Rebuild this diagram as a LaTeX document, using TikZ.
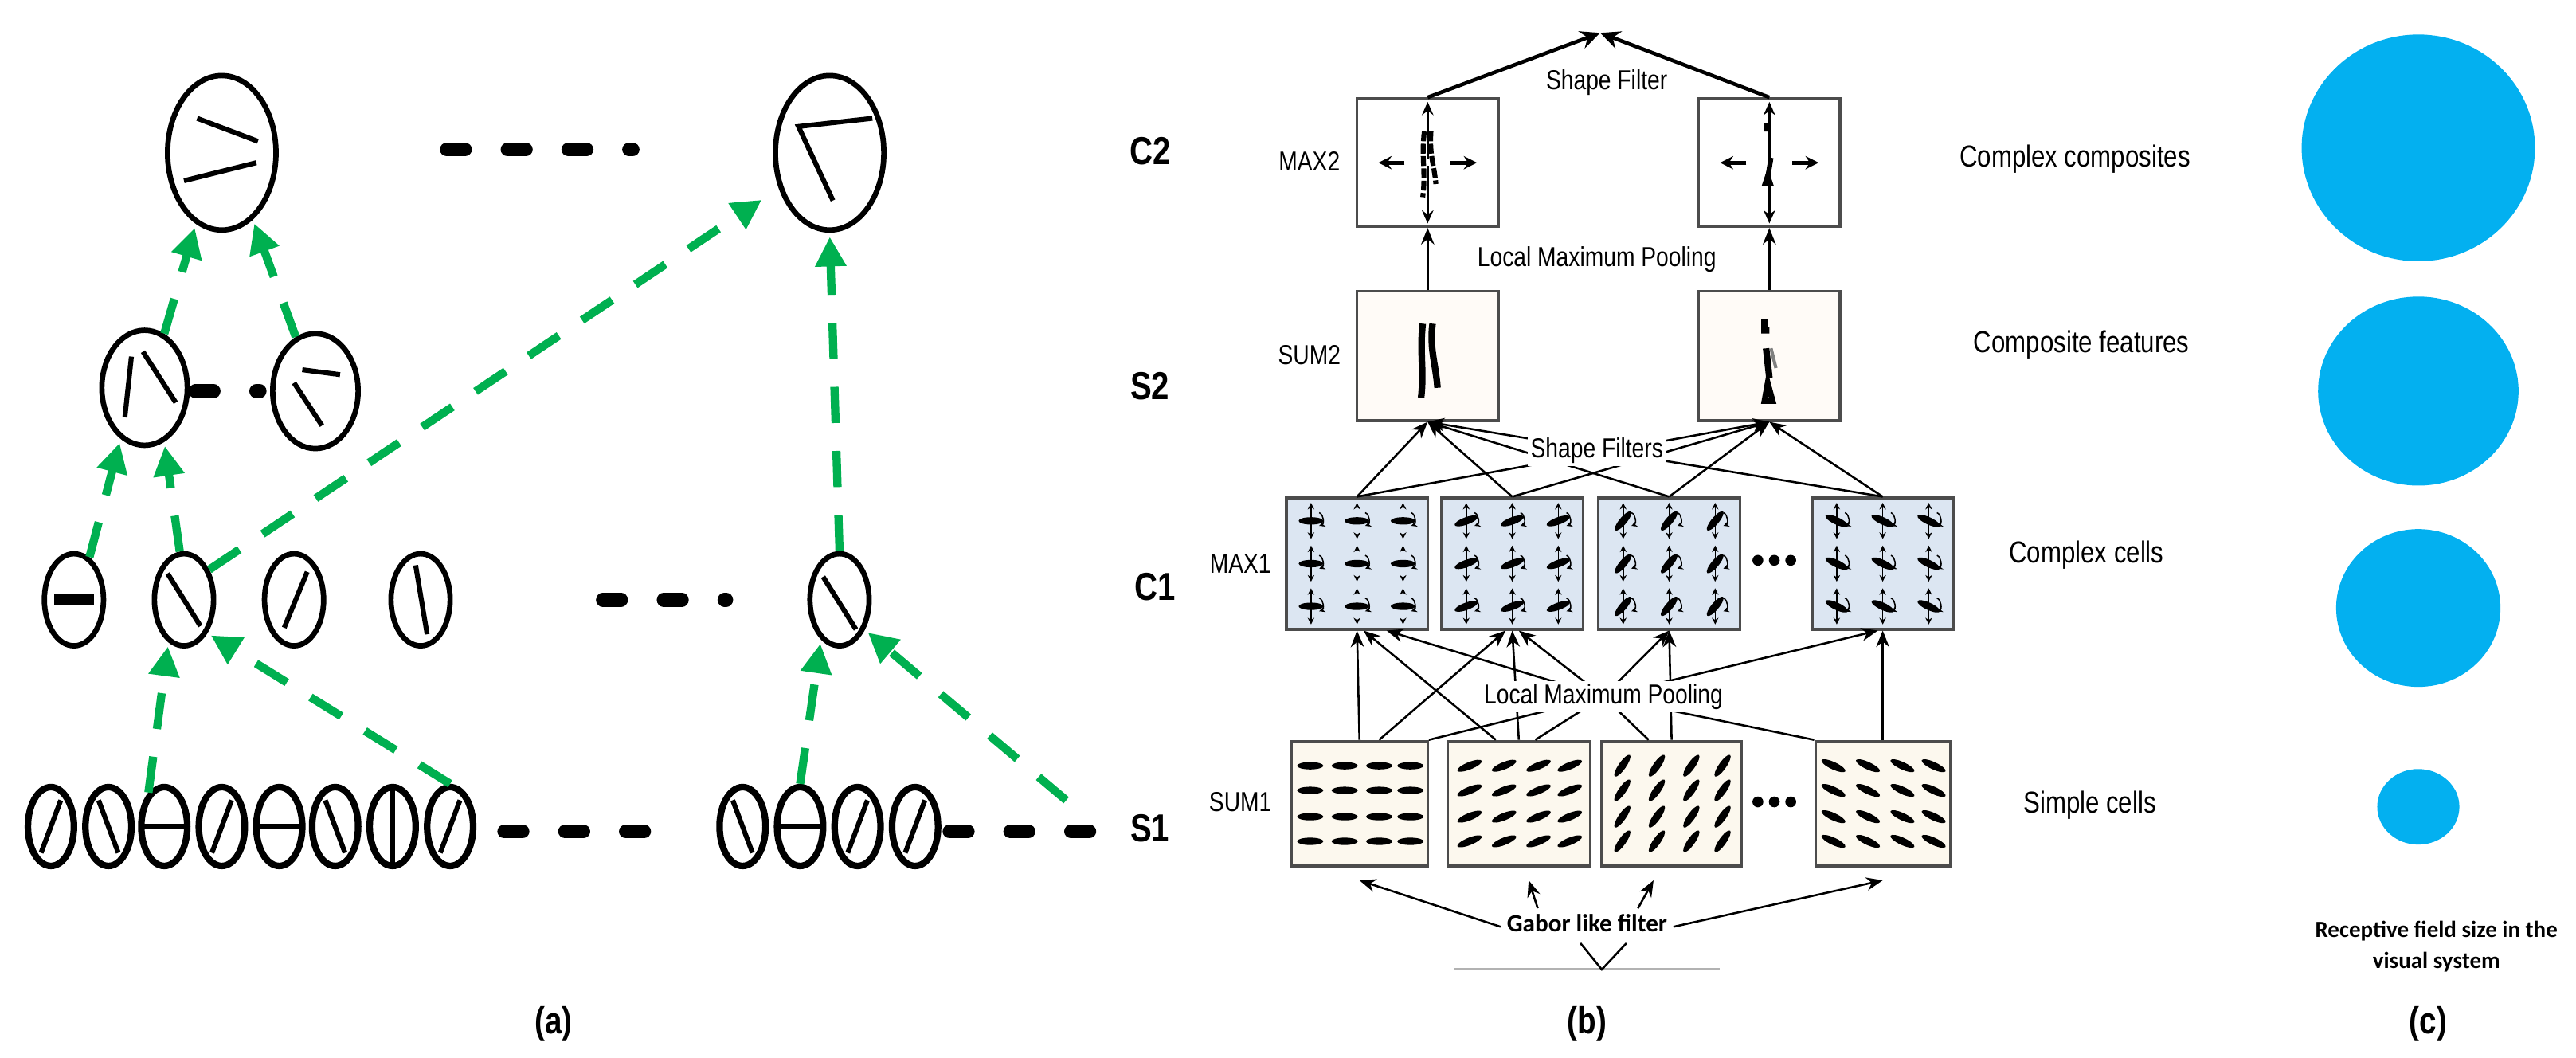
\documentclass[tikz,border=0pt]{standalone}
\usepackage{fontspec}
\setmainfont{Liberation Sans}
\newfontfamily\condf{Liberation Sans}[FakeStretch=0.82]
\newfontfamily\calf{Carlito}
\usetikzlibrary{shapes.geometric,arrows.meta,calc}
\definecolor{gr}{HTML}{00B050}
\definecolor{cb}{HTML}{03B0F0}
\definecolor{cofill}{HTML}{DCE6F2}
\definecolor{sofill}{HTML}{FCF8EE}
\newcommand{\citem}[3]{%
 \node[fill,ellipse,inner sep=0,minimum width=3mm,minimum height=0.9mm,rotate=#3] at (#1,#2) {};
 \draw[line width=0.15mm,{Stealth[length=0.8mm,width=0.8mm]}-{Stealth[length=0.8mm,width=0.8mm]}] (#1,#2-11) -- (#1,#2+11);
 \draw[line width=0.15mm,-{Stealth[length=0.7mm,width=0.7mm]}] (#1+5,#2-5) to[bend left=70] (#1+5,#2+3);}
\newcommand{\sitem}[3]{%
 \node[fill,ellipse,inner sep=0,minimum width=3.2mm,minimum height=0.9mm,rotate=#3] at (#1,#2) {};}
\begin{document}
\begin{tikzpicture}[x=0.2mm,y=-0.2mm,
 cell/.style={draw,ellipse,line width=0.65mm,inner sep=0},
 stk/.style={line width=0.6mm},
 gar/.style={draw=gr,line width=1mm,dash pattern=on 4.4mm off 3.4mm,-{Triangle[length=3.6mm,width=3.6mm]},shorten >=0.5mm},
 bdash/.style={line width=1.7mm,line cap=round,dash pattern=on 2.2mm off 5.2mm},
 box/.style={draw=black!70,line width=0.3mm,inner sep=0,minimum width=17.2mm},
 thn/.style={line width=0.25mm,-{Stealth[length=2mm,width=1.6mm]}},
 lbl/.style={font=\condf\fontsize{9.5}{11}\selectfont,inner sep=1pt},
 big/.style={font=\condf\bfseries\fontsize{13.5}{15}\selectfont},
 rlbl/.style={font=\condf\fontsize{10.5}{12}\selectfont},
 blob/.style={ellipse,fill=cb,inner sep=0},
]
\useasboundingbox (0,0) rectangle (1568,643.4);
%================ panel (a)
\node[cell,minimum width=13.2mm,minimum height=18.8mm] (c2a) at (135,93) {};
\node[cell,minimum width=13.2mm,minimum height=18.8mm] (c2b) at (505,93) {};
\draw[stk] (120,72) -- (157,86) (156,99) -- (112,110);
\draw[stk] (531,72) -- (486,77) -- (507,122);
\node[cell,minimum width=10.4mm,minimum height=14mm] (s2a) at (88,236) {};
\node[cell,minimum width=10.4mm,minimum height=14mm] (s2b) at (192,238) {};
\draw[stk] (80,217) -- (76,254) (87,214) -- (107,245);
\draw[stk] (184,225) -- (207,228) (179,233) -- (196,259);
\foreach \x [count=\i] in {45,112,179,256} \node[cell,minimum width=7.2mm,minimum height=11.2mm] (c1n\i) at (\x,365) {};
\node[cell,minimum width=7.2mm,minimum height=11.2mm] (c1r) at (511,365) {};
\draw[line width=1.3mm] (33,365) -- (57,365);
\draw[stk] (102,349) -- (122,381) (187,348) -- (173,382) (253,344) -- (260,386) (501,351) -- (521,383);
\foreach \x/\t [count=\i] in {31/1,66/2,100/3,135/1,170/3,204/2,239/4,274/1,452/2,487/3,522/1,557/1}{
 \node[cell,line width=0.8mm,minimum width=5.6mm,minimum height=9.6mm] (s1n\i) at (\x,503) {};
 \ifcase\t\or \draw[stk] (\x+6,487) -- (\x-6,519);
 \or \draw[stk] (\x-6,487) -- (\x+6,519);
 \or \draw[stk] (\x-13,503) -- (\x+13,503);
 \or \draw[stk] (\x,480) -- (\x,526); \fi}
\coordinate (s1end) at (649,487);
\draw[bdash] (272,91) -- (385,91);
\draw[bdash] (119,238) -- (158,238);
\draw[bdash] (367,365) -- (442,365);
\draw[bdash] (307,506) -- (416,506);
\draw[bdash] (578,506) -- (668,506);
\draw[gar] (s1n3.115) -- (c1n2.250);
\draw[gar] (s1n8.north) -- (c1n2.-55);
\draw[gar] (s1n10.north) -- (c1r.245);
\draw[gar] (s1end) -- (c1r.-50);
\draw[gar] (c1n1.70) -- (s2a.245);
\draw[gar] (c1n2.95) -- (s2a.290);
\draw[gar,shorten >=2.5mm] (c1n2.50) -- (c2b.215);
\draw[gar] (s2a.70) -- (c2a.250);
\draw[gar] (s2b.110) -- (c2a.295);
\draw[gar] (c1r.north) -- (c2b.south);
\node[font=\condf\bfseries\fontsize{13}{15}\selectfont] (la) at (337,623) {(a)};
%================ panel (b)
\node[big] (tC2) at (700,92) {C2};
\node[big] (tS2) at (700,235) {S2};
\node[big] (tC1) at (703,357) {C1};
\node[big] (tS1) at (700,504) {S1};
\node[box,minimum height=15.6mm,fill=white] (m2l) at (869,99) {};
\node[box,minimum height=15.6mm,fill=white] (m2r) at (1077,99) {};
\node[box,minimum height=15.8mm,fill=white!97!orange] (s2l) at (869,216.5) {};
\node[box,minimum height=15.8mm,fill=white!97!orange] (s2r) at (1077,216.5) {};
\foreach \n/\x in {a/826,b/920.5,c/1016,d/1146} \node[box,minimum height=16mm,fill=cofill] (c1\n) at (\x,343) {};
\foreach \n/\x/\w in {a/827.5/16.6,b/924.5/17.4,c/1017.5/17,d/1146/16.4} \node[box,minimum width=\w mm,minimum height=15.2mm,fill=sofill] (s1\n) at (\x,489) {};
\foreach \x/\a in {826/0,920.5/20,1016/50,1146/-25}{
 \foreach \dx in {-28,0,28}{ \foreach \dy in {-26,0,26}{ \citem{\x+\dx}{343+\dy}{\a} }}}
\foreach \x/\a in {827.5/0,924.5/22,1017.5/55,1146/-25}{
 \foreach \dx in {-30,-9,12,31}{ \foreach \dy in {-23,-8,8,23}{ \sitem{\x+\dx}{489+\dy}{\a} }}}
\foreach \x in {869,1077}{
 \draw[line width=0.3mm,-{Stealth[length=1.6mm,width=1.4mm]}] (\x,97) -- (\x,62);
 \draw[line width=0.3mm,-{Stealth[length=1.6mm,width=1.4mm]}] (\x,101) -- (\x,136);
 \draw[line width=0.5mm,-{Stealth[length=1.6mm,width=1.6mm]}] (\x-14,99) -- (\x-30,99);
 \draw[line width=0.5mm,-{Stealth[length=1.6mm,width=1.6mm]}] (\x+14,99) -- (\x+30,99);}
\draw[line width=0.6mm,dash pattern=on 1.2mm off 0.3mm] (867,80) .. controls (865,95) and (868,105) .. (866,120);
\draw[line width=0.6mm,dash pattern=on 1.2mm off 0.3mm] (871,80) .. controls (870,95) and (873,100) .. (874,112);
\draw[line width=0.6mm] (1075,75) -- (1075,80) (1078,96) -- (1076,108);
\draw[line width=0.5mm] (1074,112) -- (1078,112) -- (1076,106) -- cycle;
\draw[line width=0.8mm] (866,197) .. controls (864,215) and (867,225) .. (865,242);
\draw[line width=0.8mm] (872,197) .. controls (870,212) and (874,222) .. (875,236);
\draw[line width=0.8mm] (1074,194) -- (1074,201) -- (1077,201) (1075,212) -- (1077,230);
\draw[line width=0.4mm,gray] (1078,212) -- (1081,224);
\draw[line width=0.7mm] (1074,244) -- (1079,244) -- (1076,233) -- cycle;
\node[lbl] (mx2) at (797,98) {MAX2};
\node[lbl] (sm2) at (797,216) {SUM2};
\node[lbl] (mx1) at (755,343) {MAX1};
\node[lbl] (sm1) at (755,488) {SUM1};
\foreach \y in {341,488} \foreach \d in {-10,0,10} \fill (1080+\d,\y) circle[radius=3.3];
\coordinate (apex) at (974,20);
\draw[line width=0.45mm,-{Stealth[length=2.4mm,width=2.2mm]}] (m2l.north) -- (apex);
\draw[line width=0.45mm,-{Stealth[length=2.4mm,width=2.2mm]}] (m2r.north) -- (apex);
\draw[thn] (s2l.north) -- (m2l.south);
\draw[thn] (s2r.north) -- (m2r.south);
\foreach \s in {s2l,s2r}{\foreach \c in {c1a,c1b,c1c,c1d} \draw[thn] (\c.north) -- (\s.south);}
\foreach \n in {a,b,c,d} \draw[thn] (s1\n.north) -- (c1\n.south);
\draw[thn] ($(s1a.north)+(12,0)$) -- ($(c1b.south)+(-4,0)$);
\draw[thn] ($(s1b.north)+(-14,0)$) -- ($(c1a.south)+(4,0)$);
\coordinate (lm) at (976,424);
\draw[thn] (s1a.north east) -- (lm) -- ($(c1a.south)+(18,0)$);
\draw[thn] ($(s1b.north)+(10,0)$) -- (lm) -- ($(c1b.south)+(4,0)$);
\draw[thn] ($(s1c.north)+(-14,0)$) -- (lm) -- ($(c1c.south)+(0,0)$);
\draw[thn] (s1d.north west) -- (lm) -- ($(c1d.south)+(-3,0)$);
\node[lbl,fill=white] (lmpB) at (lm) {Local Maximum Pooling};
\node[lbl,fill=white] (lmpA) at (972,158) {Local Maximum Pooling};
\node[lbl,fill=white] (sfs) at (972,274) {Shape Filters};
\node[lbl] (sf) at (978,50) {Shape Filter};
\draw[gray!60,line width=0.3mm] (885,590) -- (1047,590);
\draw[line width=0.25mm] (962,574) -- (975,590) -- (990,574);
\node[font=\calf\bfseries\fontsize{8.6}{10}\selectfont,fill=white,inner sep=2pt] (gab) at (966,562) {Gabor like filter};
\draw[thn] (gab.west) ++(0,2) -- ($(s1a.south)+(0,8)$);
\draw[thn] ($(gab.north)+(-30,0)$) -- ($(s1b.south)+(6,8)$);
\draw[thn] ($(gab.north)+(31,0)$) -- ($(s1c.south)+(-11,8)$);
\draw[thn] (gab.east) ++(0,2) -- ($(s1d.south)+(0,8)$);
\node[font=\condf\bfseries\fontsize{13}{15}\selectfont] (lb) at (966,623) {(b)};
%================ panel (c)
\node[blob,minimum width=28.4mm,minimum height=27.6mm] (k1) at (1472,90) {};
\node[blob,minimum width=24.4mm,minimum height=23mm] (k2) at (1472,238) {};
\node[blob,minimum width=20mm,minimum height=19.2mm] (k3) at (1472,370) {};
\node[blob,minimum width=10mm,minimum height=9.2mm] (k4) at (1472,491) {};
\node[rlbl] (t1) at (1263,97) {Complex composites};
\node[rlbl] (t2) at (1267,210) {Composite features};
\node[rlbl] (t3) at (1270,338) {Complex cells};
\node[rlbl] (t4) at (1272,490) {Simple cells};
\node[font=\calf\bfseries\fontsize{8}{11}\selectfont,align=center] (rf) at (1483,576) {Receptive field size in the\\visual system};
\node[font=\condf\bfseries\fontsize{13}{15}\selectfont] (lc) at (1478,623) {(c)};
\end{tikzpicture}
\end{document}
